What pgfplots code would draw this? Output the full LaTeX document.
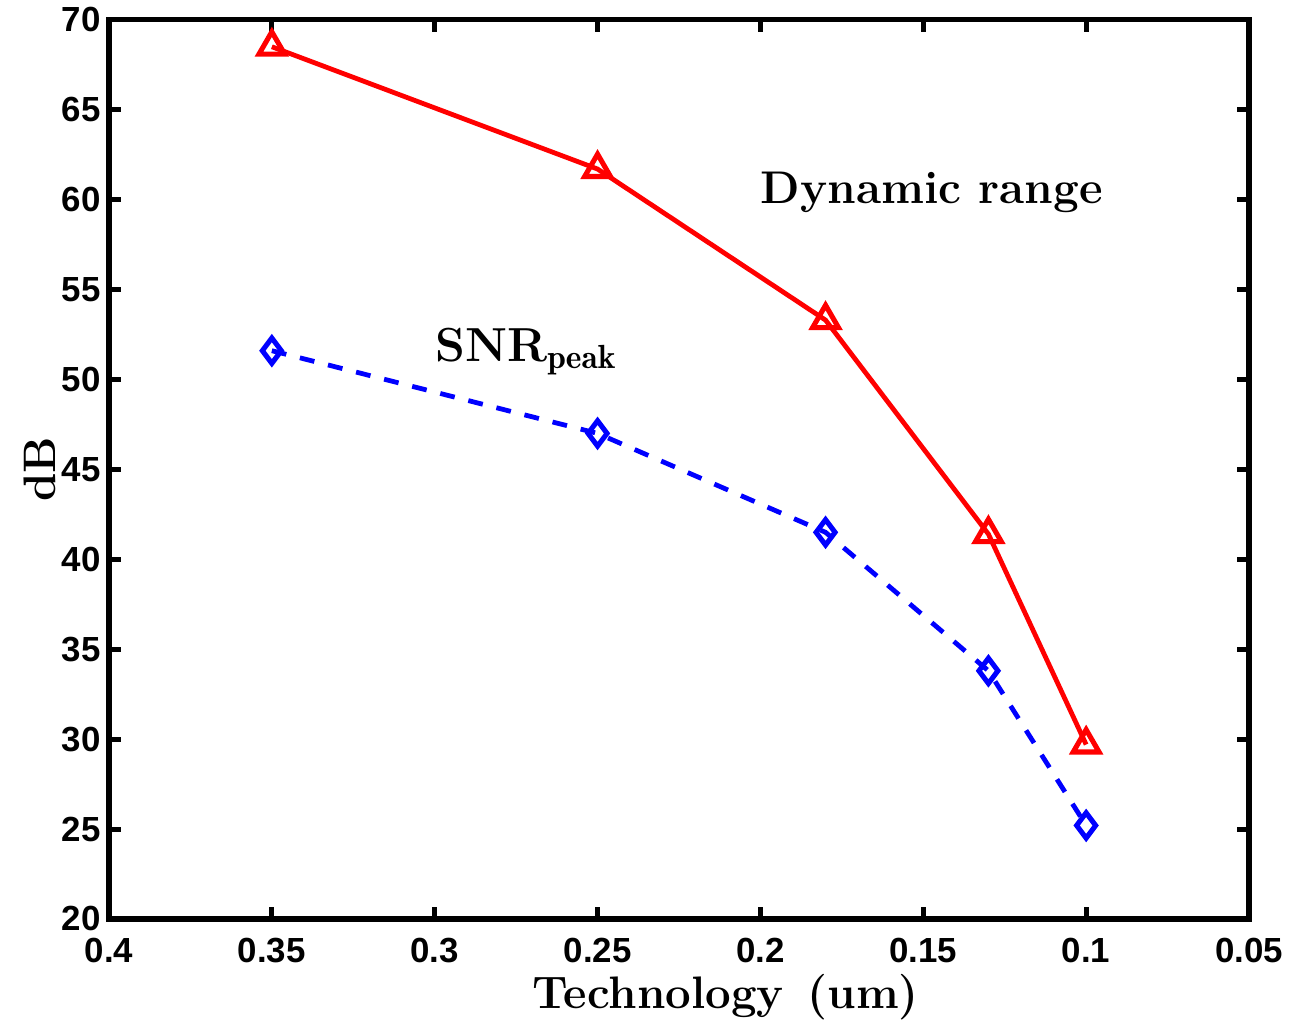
\documentclass[border=0pt]{standalone}
\usepackage{fontspec}
\usepackage{pgfplots}
\pgfplotsset{compat=1.18}
\newfontfamily\tickfont{Liberation Sans}

\begin{document}
\begin{tikzpicture}
\begin{axis}[
    name=ax,
    scale only axis,
    width=14.25cm, height=11.24cm,
    x dir=reverse,
    xmin=0.05, xmax=0.4,
    ymin=20, ymax=70,
    xtick={0.05,0.1,0.15,0.2,0.25,0.3,0.35,0.4},
    xticklabels={0.05,0.1,0.15,0.2,0.25,0.3,0.35,0.4},
    ytick={20,25,...,70},
    tick align=inside,
    major tick length=0.15cm,
    every tick/.style={black, line width=1.8pt},
    axis line style={line width=1.8pt},
    /pgf/number format/assume math mode=true,
    ticklabel style={font=\tickfont\bfseries\fontsize{12.4}{14}\selectfont},
    xticklabel style={yshift=-0.12cm},
    yticklabel style={xshift=0.02cm},
    xlabel={Technology\hspace{0.15em} (um)},
    ylabel={dB},
    label style={font=\bfseries\fontsize{16.2}{18}\selectfont},
    xlabel style={at={(axis description cs:0.541,-0.087)}, anchor=center},
    ylabel style={at={(axis description cs:-0.061,0.5)}, anchor=center},
    clip=false,
]
\addplot[red, line width=1.7pt, mark=triangle, mark size=5.3pt,
    mark options={solid, line width=1.8pt}] coordinates {
    (0.35, 68.5)
    (0.25, 61.7)
    (0.18, 53.3)
    (0.13, 41.4)
    (0.10, 29.7)
};
\addplot[blue, line width=1.7pt, dash pattern=on 5.3pt off 5pt,
    mark=diamond, mark size=4.5pt,
    mark options={solid, line width=1.8pt}] coordinates {
    (0.35, 51.6)
    (0.25, 47.0)
    (0.18, 41.5)
    (0.13, 33.8)
    (0.10, 25.2)
};
\node[anchor=base west, font=\bfseries\fontsize{16.3}{18}\selectfont, inner sep=0pt]
    at (axis cs:0.2,59.8) {Dynamic range};
\node[anchor=base west, font=\bfseries\fontsize{17}{18}\selectfont, inner sep=0pt]
    at (axis cs:0.3,51.0) {SNR$_{\mathbf{peak}}$};
\end{axis}
\pgfresetboundingbox
\path[use as bounding box] ([shift={(-1.3625cm,-1.3125cm)}]ax.south west)
    rectangle ([shift={(14.75cm,11.4875cm)}]ax.south west);
\end{tikzpicture}
\end{document}
